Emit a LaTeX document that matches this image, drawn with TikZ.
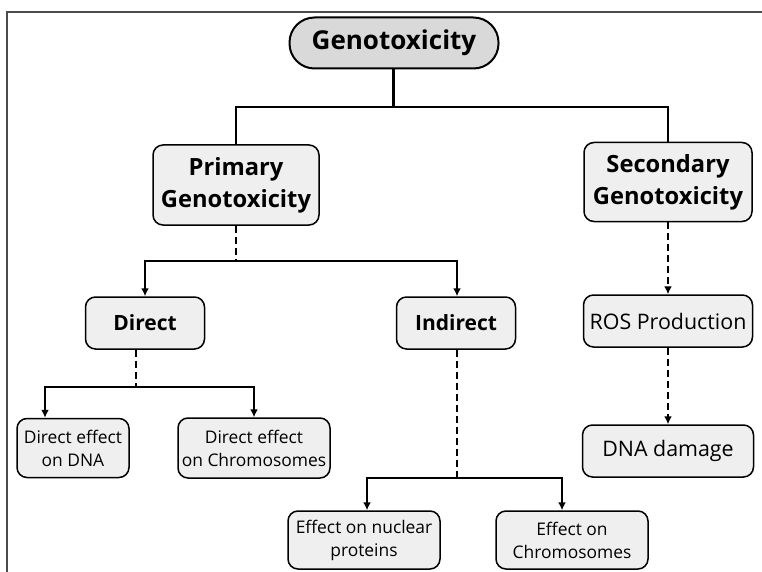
\documentclass[tikz,border=0pt]{standalone}
\usepackage{fontspec}
\setmainfont{Open Sans}
\usetikzlibrary{arrows.meta,positioning}
\definecolor{boxgray}{HTML}{EFEFEF}
\definecolor{topgray}{HTML}{D9D9D9}

\begin{document}
\begin{tikzpicture}[x=1pt,y=-1pt,on grid,
  box/.style={draw,line width=1.5pt,rounded corners=10pt,fill=boxgray,align=center,inner sep=0pt},
  head/.style={box,font=\bfseries\fontsize{23.7}{32}\selectfont},
  sub/.style={box,font=\bfseries\fontsize{21}{25}\selectfont},
  leaf/.style={box,font=\fontsize{17.4}{23}\selectfont},
  link/.style={line width=2.4pt},
  arr/.style={link,-{Latex[length=8pt,width=8pt]}},
  dsh/.style={link,dash pattern=on 7pt off 4pt},
  darr/.style={arr,dash pattern=on 7pt off 4pt}]
\useasboundingbox (0,0) rectangle (762,572);
\draw[line width=1.2pt,black!70] (7,572) -- (7,12) -- (762,12);

\node[box,line width=2pt,rounded corners=25pt,fill=topgray,minimum width=209pt,minimum height=51pt,
      font=\bfseries\fontsize{26}{30}\selectfont] (geno) at (394,43) {Genotoxicity};
\node[head,minimum width=166pt,minimum height=80pt] (prim) at (236,185) {Primary\\Genotoxicity};
\node[head,minimum width=168pt,minimum height=79pt] (sec) at (668,182) {Secondary\\Genotoxicity};
\node[sub,minimum width=119pt,minimum height=52pt] (direct) at (145,323) {Direct};
\node[sub,minimum width=119pt,minimum height=52pt] (indirect) at (456,323) {Indirect};
\node[box,font=\fontsize{21.4}{25}\selectfont,minimum width=169pt,minimum height=52pt] (ros) [below=139pt of sec] {ROS Production};
\node[box,font=\fontsize{21.4}{25}\selectfont,minimum width=171pt,minimum height=52pt] (dmg) [below=130pt of ros] {DNA damage};
\node[leaf,minimum width=112pt,minimum height=59pt] (dna) at (73,448) {Direct effect\\on DNA};
\node[leaf,minimum width=152pt,minimum height=60pt] (chromo) at (254,448) {Direct effect\\on Chromosomes};
\node[leaf,minimum width=152pt,minimum height=58pt] (nuc) at (364,540) {Effect on nuclear\\proteins};
\node[leaf,minimum width=152pt,minimum height=58pt] (chromo2) at (572,540) {Effect on\\Chromosomes};

% top split
\coordinate (jg) at (393,107);
\draw[link,line width=3pt] (geno.south -| jg) -- (jg);
\draw[link] (prim) |- (jg) -| (sec);
% primary branch
\coordinate (jp) at (236,261);
\draw[dsh] (prim) -- (jp);
\draw[arr] (jp) -| (direct);
\draw[arr] (jp) -| ([xshift=1pt]indirect.north);
\coordinate (jd) at (136,387);
\draw[dsh] (direct.south -| jd) -- (jd);
\draw[arr] (jd) -| ([xshift=-28pt]dna.north);
\draw[arr] (jd) -| (chromo);
\coordinate (ji) at (457,478);
\draw[dsh] (indirect.south -| ji) -- (ji);
\draw[arr] (ji) -| ([xshift=3pt]nuc.north);
\draw[arr] (ji) -| ([xshift=-10pt]chromo2.north);
% secondary branch
\draw[darr] (sec) -- (ros);
\draw[darr] (ros) -- (dmg);
\end{tikzpicture}
\end{document}
